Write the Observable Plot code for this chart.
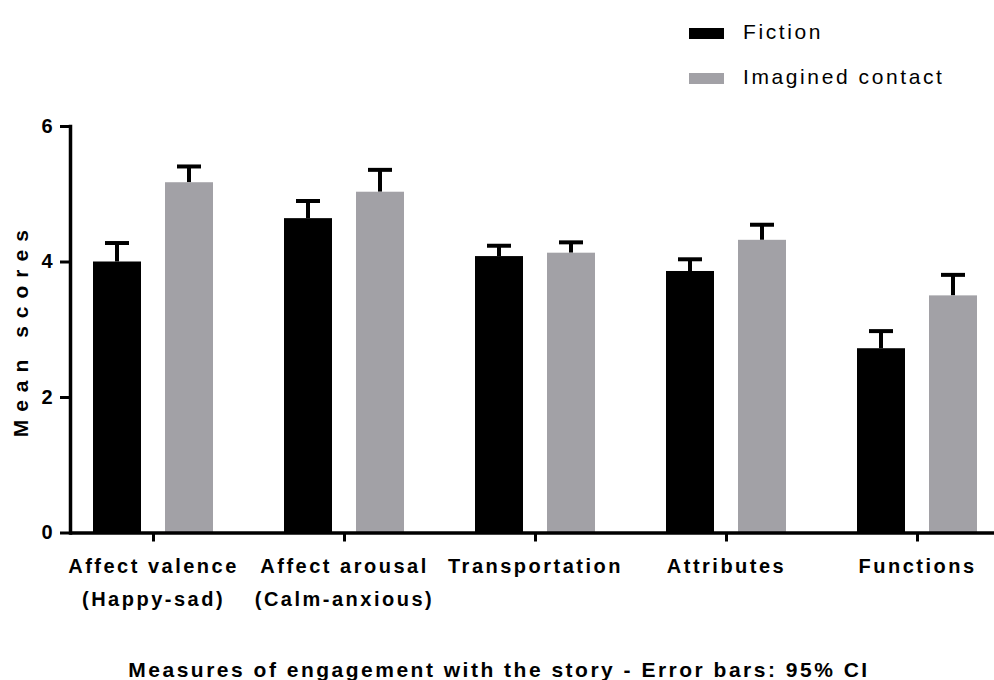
<!DOCTYPE html>
<html>
<head>
<meta charset="utf-8">
<script src="https://cdn.jsdelivr.net/npm/d3@7"></script>
<script src="https://cdn.jsdelivr.net/npm/@observablehq/plot@0.6"></script>
<style>
  body { margin: 0; background: #fff; }
  #chart { position: relative; width: 994px; height: 680px; font-family: "Liberation Sans", Arial, sans-serif; }
  #chart svg { position: absolute; left: 0; top: 0; }
  .legend { position: absolute; left: 689px; top: 0; }
  .legend .item { position: absolute; left: 0; width: 300px; height: 40px; }
  .legend .swatch { position: absolute; left: 0; top: 11px; width: 35px; height: 11px; }
  .legend .name { position: absolute; left: 54px; top: 4px; font-size: 21px; line-height: 21px; letter-spacing: 2.6px; color: #000; white-space: nowrap; }
  .xtitle { position: absolute; left: 0; top: 659px; width: 998px; text-align: center; font-size: 21px; line-height: 21px; font-weight: bold; letter-spacing: 2.5px; color: #000; white-space: nowrap; }
  g[aria-label="x-axis tick label"] text { letter-spacing: 2.5px; font-size: 20px; font-weight: bold; }
  g[aria-label="y-axis tick label"] text { font-size: 20px; font-weight: bold; }
  g[aria-label="y-axis label"] text { letter-spacing: 8px; font-size: 21px; font-weight: bold; }
</style>
</head>
<body>
<div id="chart"></div>
<script>
// Engagement measures on the x axis
const categories = [
  "Affect valence\n(Happy-sad)",
  "Affect arousal\n(Calm-anxious)",
  "Transportation",
  "Attributes",
  "Functions"
];
const series = ["Fiction", "Imagined contact"];
const seriesColors = ["#000000", "#a2a1a6"];

// Mean scores and upper 95% CI bounds per condition
const fictionMean = [4.00, 4.64, 4.08, 3.86, 2.72];
const fictionUpper = [4.28, 4.90, 4.24, 4.04, 2.98];
const imaginedMean = [5.17, 5.03, 4.13, 4.32, 3.50];
const imaginedUpper = [5.41, 5.36, 4.29, 4.55, 3.81];

const yTicks = [0, 2, 4, 6];
const xTitle = "Measures of engagement with the story - Error bars: 95% CI";
const yTitle = "Mean scores";

const fiction = categories.map((c, i) => ({category: c, mean: fictionMean[i], upper: fictionUpper[i]}));
const imagined = categories.map((c, i) => ({category: c, mean: imaginedMean[i], upper: imaginedUpper[i]}));

const chart = Plot.plot({
  width: 994,
  height: 680,
  marginLeft: 70,
  marginRight: -6,
  marginTop: 126,
  marginBottom: 147.5,
  style: {fontFamily: "'Liberation Sans', Arial, sans-serif", color: "#000", background: "#fff"},
  x: {domain: categories, paddingInner: 0.3734, paddingOuter: 0.115},
  y: {domain: [0, 6]},
  marks: [
    // error bar stems
    Plot.barY(fiction, {x: "category", y1: "mean", y2: "upper", fill: "#000", insetLeft: 22, insetRight: 94}),
    Plot.barY(imagined, {x: "category", y1: "mean", y2: "upper", fill: "#000", insetLeft: 94, insetRight: 22}),
    // error bar caps
    Plot.tickY(fiction, {x: "category", y: "upper", stroke: "#000", strokeWidth: 4, insetLeft: 12, insetRight: 84}),
    Plot.tickY(imagined, {x: "category", y: "upper", stroke: "#000", strokeWidth: 4, insetLeft: 84, insetRight: 12}),
    // bars
    Plot.barY(fiction, {x: "category", y: "mean", fill: seriesColors[0], insetRight: 72}),
    Plot.barY(imagined, {x: "category", y: "mean", fill: seriesColors[1], insetLeft: 72}),
    // axes
    Plot.axisY({
      ticks: yTicks, tickFormat: d3.format("d"), tickSize: 10, tickPadding: 8, strokeWidth: 3,
      fontSize: 20, fontWeight: "bold",
      label: yTitle, labelAnchor: "center", labelArrow: "none", labelOffset: 57
    }),
    Plot.axisX({
      tickSize: 9, tickPadding: 8, strokeWidth: 3,
      fontSize: 20, fontWeight: "bold", lineHeight: 1.65,
      label: null
    }),
    Plot.ruleY([0], {strokeWidth: 3.5}),
    Plot.frame({anchor: "left", strokeWidth: 3.5})
  ]
});

const root = document.getElementById("chart");
root.appendChild(chart);

// x-axis title below the chart
const title = document.createElement("div");
title.className = "xtitle";
title.textContent = xTitle;
root.appendChild(title);

// legend in the top-right corner
const legend = document.createElement("div");
legend.className = "legend";
series.forEach((name, i) => {
  const item = document.createElement("div");
  item.className = "item";
  item.style.top = (17 + i * 45) + "px";
  const sw = document.createElement("div");
  sw.className = "swatch";
  sw.style.background = seriesColors[i];
  const label = document.createElement("div");
  label.className = "name";
  label.textContent = name;
  item.appendChild(sw);
  item.appendChild(label);
  legend.appendChild(item);
});
root.appendChild(legend);
</script>
</body>
</html>
